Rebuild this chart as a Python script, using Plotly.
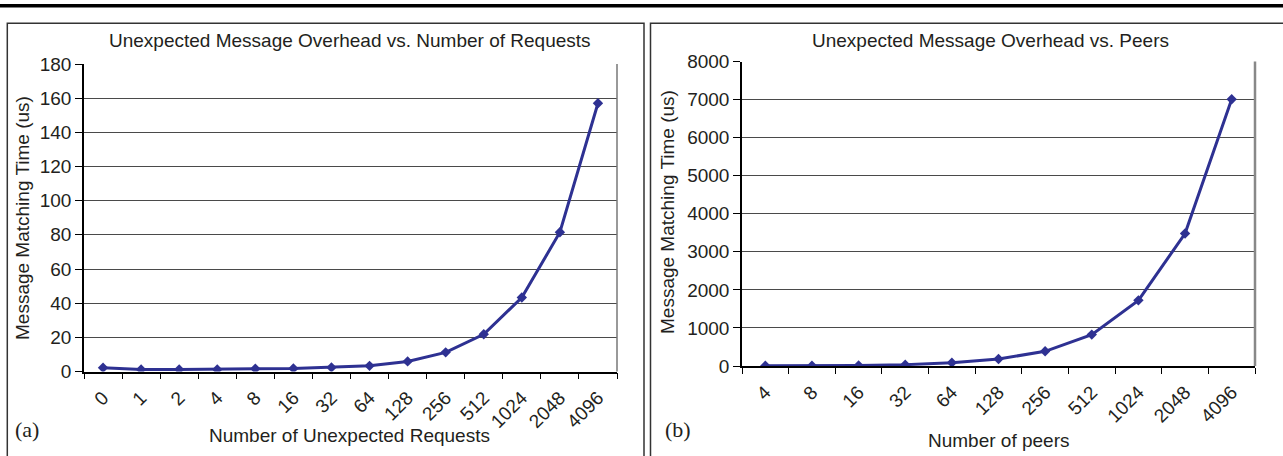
import plotly.graph_objects as go

# Panel (a): matching time vs. number of unexpected requests
req_labels = ["0", "1", "2", "4", "8", "16", "32", "64", "128", "256", "512", "1024", "2048", "4096"]
req_time_us = [2.2, 1.2, 1.2, 1.2, 1.6, 1.8, 2.4, 3.3, 5.9, 11.2, 21.8, 43.3, 81.5, 157.0]

# Panel (b): matching time vs. number of peers
peer_labels = ["4", "8", "16", "32", "64", "128", "256", "512", "1024", "2048", "4096"]
peer_time_us = [5, 8, 15, 35, 88, 184, 386, 825, 1725, 3480, 7010]

left_ticks = list(range(0, 181, 20))
right_ticks = list(range(0, 8001, 1000))

W, H = 1283, 456
LINE = "#2E3192"
TXT = "#231f20"
FONT = "Liberation Sans, Arial, sans-serif"
FS = 19


def px(x):
    return x / W


def py(y):
    return 1 - y / H


fig = go.Figure()

fig.add_trace(go.Scatter(
    x=req_labels, y=req_time_us, mode="lines+markers",
    line=dict(color=LINE, width=3),
    marker=dict(symbol="diamond", size=8, color=LINE),
    xaxis="x", yaxis="y", showlegend=False,
))
fig.add_trace(go.Scatter(
    x=peer_labels, y=peer_time_us, mode="lines+markers",
    line=dict(color=LINE, width=3),
    marker=dict(symbol="diamond", size=8, color=LINE),
    xaxis="x2", yaxis="y2", showlegend=False,
))

# plot-area rectangles (pixels)
L = dict(x0=84, x1=617, y0=64, y1=371.5)
R = dict(x0=742, x1=1255, y0=61.5, y1=366)

xcommon = dict(
    type="category", tickson="boundaries", ticks="outside", ticklen=6,
    tickcolor="#000", tickwidth=1, showline=True, linecolor="#000", linewidth=1.5,
    showgrid=False, zeroline=False, tickangle=-45, automargin=False,
    ticklabelstandoff=6,
    tickfont=dict(family=FONT, size=FS, color=TXT), fixedrange=True,
)
ycommon = dict(
    ticks="outside", ticklen=7, tickcolor="#000", tickwidth=1,
    showline=True, linecolor="#000", linewidth=1.5, automargin=False,
    showgrid=True, gridcolor="#4a4a4a", gridwidth=1, zeroline=False,
    tickfont=dict(family=FONT, size=FS, color=TXT), fixedrange=True,
)

fig.update_layout(
    width=W, height=H,
    margin=dict(l=0, r=0, t=0, b=0),
    paper_bgcolor="white", plot_bgcolor="white",
    xaxis=dict(xcommon, domain=[px(L["x0"]), px(L["x1"])], anchor="y",
               range=[-0.5, len(req_labels) - 0.5]),
    yaxis=dict(ycommon, domain=[py(L["y1"]), py(L["y0"])], anchor="x",
               range=[0, 180], tickvals=left_ticks),
    xaxis2=dict(xcommon, domain=[px(R["x0"]), px(R["x1"])], anchor="y2",
                range=[-0.5, len(peer_labels) - 0.5]),
    yaxis2=dict(ycommon, domain=[py(R["y1"]), py(R["y0"])], anchor="x2",
                range=[0, 8000], tickvals=right_ticks),
)

shapes = []
# heavy rule across the top of the page
shapes.append(dict(type="line", xref="paper", yref="paper", x0=0, x1=1,
                   y0=py(5.8), y1=py(5.8), line=dict(color="#000", width=3.5)))
# panel frames
shapes.append(dict(type="rect", xref="paper", yref="paper",
                   x0=px(7.3), x1=px(644), y0=py(470), y1=py(23.3),
                   line=dict(color="#333", width=1.5)))
shapes.append(dict(type="rect", xref="paper", yref="paper",
                   x0=px(650.5), x1=px(1300), y0=py(470), y1=py(23.3),
                   line=dict(color="#333", width=1.5)))
# plot-area right edges
shapes.append(dict(type="line", xref="paper", yref="paper",
                   x0=px(L["x1"]), x1=px(L["x1"]), y0=py(L["y1"]), y1=py(L["y0"]),
                   line=dict(color="#777", width=1.5)))
shapes.append(dict(type="line", xref="paper", yref="paper",
                   x0=px(R["x1"]), x1=px(R["x1"]), y0=py(R["y1"]), y1=py(R["y0"]),
                   line=dict(color="#888", width=2.5)))
fig.update_layout(shapes=shapes)

ann = []


def text(x, y, s, size=FS, angle=0, family=FONT):
    ann.append(dict(x=px(x), y=py(y), xref="paper", yref="paper", text=s,
                    showarrow=False, textangle=angle, xanchor="center", yanchor="middle",
                    font=dict(family=family, size=size, color=TXT)))


text(350, 40, "Unexpected Message Overhead vs. Number of Requests")
text(990, 40, "Unexpected Message Overhead vs. Peers")
text(22, 218, "Message Matching Time (us)", FS, -90)
text(667, 212, "Message Matching Time (us)", FS, -90)
text(350, 435, "Number of Unexpected Requests")
text(999, 440, "Number of peers")
text(27, 429, "(a)", 22, 0, "Liberation Serif, Times New Roman, serif")
text(678, 429, "(b)", 22, 0, "Liberation Serif, Times New Roman, serif")
fig.update_layout(annotations=ann)

fig.write_html("out.html")
